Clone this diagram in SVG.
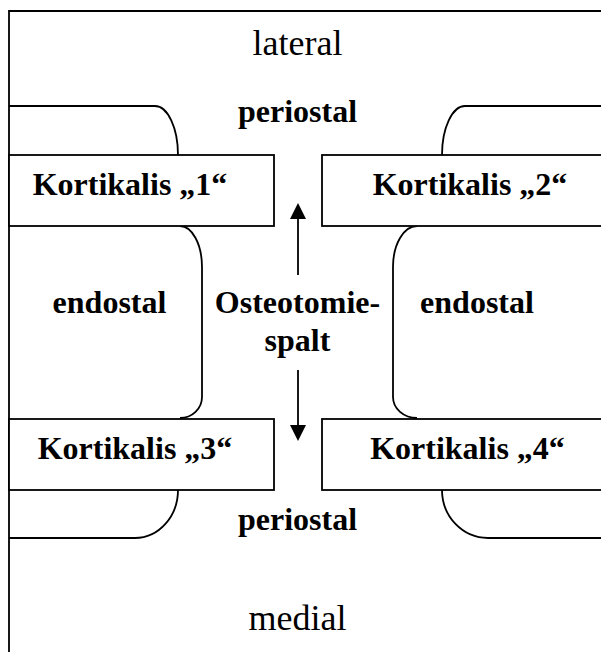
<svg xmlns="http://www.w3.org/2000/svg" width="601" height="652" viewBox="0 0 601 652">
<style>
.ln{fill:none;stroke:#000;stroke-width:1.8}
.bx{fill:#fff;stroke:#000;stroke-width:1.8}
.b{font-family:"Liberation Serif","Times New Roman",serif;font-weight:bold;font-size:32px;text-anchor:middle;fill:#000}
.r{font-family:"Liberation Serif","Times New Roman",serif;font-size:36px;text-anchor:middle;fill:#000}
</style>
<defs>
<marker id="ah" viewBox="0 0 16 16" refX="0" refY="8" markerWidth="16" markerHeight="16" markerUnits="userSpaceOnUse" orient="auto">
<path d="M0,0 L16,8 L0,16 Z" fill="#000"/>
</marker>
</defs>
<rect width="601" height="652" fill="#fff"/>
<g id="frame">
<path class="ln" d="M605,11 H9 V652"/>
</g>
<g id="outline">
<path class="ln" d="M9,106 H155 A23,49 0 0 1 178,155"/>
<path class="ln" d="M180,226 A22,41 0 0 1 202,267 V397 A22,21 0 0 1 180,418"/>
<path class="ln" d="M417,226 A24,41 0 0 0 393,267 V397 A24,21 0 0 0 417,418"/>
<path class="ln" d="M178,490 A43,48 0 0 1 135,538 H9"/>
<path class="ln" d="M442,155 A23,49 0 0 1 465,106 H605"/>
<path class="ln" d="M442,490 A46,48 0 0 0 488,538 H605"/>
</g>
<g id="label-lateral"><text class="r" x="297.5" y="55">lateral</text></g>
<g id="label-medial"><text class="r" x="297.5" y="630">medial</text></g>
<g id="label-periostal-top"><text class="b" x="297.5" y="122">periostal</text></g>
<g id="label-periostal-bottom"><text class="b" x="297.5" y="530">periostal</text></g>
<g id="kortikalis1"><rect class="bx" x="9" y="155" width="265" height="71"/><text class="b" x="130" y="195">Kortikalis „1“</text></g>
<g id="kortikalis2"><rect class="bx" x="322" y="155" width="290" height="71"/><text class="b" x="470" y="195">Kortikalis „2“</text></g>
<g id="kortikalis3"><rect class="bx" x="9" y="419" width="265" height="71"/><text class="b" x="135" y="459">Kortikalis „3“</text></g>
<g id="kortikalis4"><rect class="bx" x="322" y="419" width="290" height="71"/><text class="b" x="467.5" y="459">Kortikalis „4“</text></g>
<g id="endostal-left"><text class="b" x="109.5" y="313">endostal</text></g>
<g id="endostal-right"><text class="b" x="477" y="313">endostal</text></g>
<g id="osteotomiespalt"><text class="b" x="297.5" y="313">Osteotomie-</text><text class="b" x="297.5" y="351">spalt</text></g>
<g id="connectors">
<line class="ln" x1="298" y1="275" x2="298" y2="219" marker-end="url(#ah)"/>
<line class="ln" x1="298" y1="370" x2="298" y2="425" marker-end="url(#ah)"/>
</g>
</svg>
